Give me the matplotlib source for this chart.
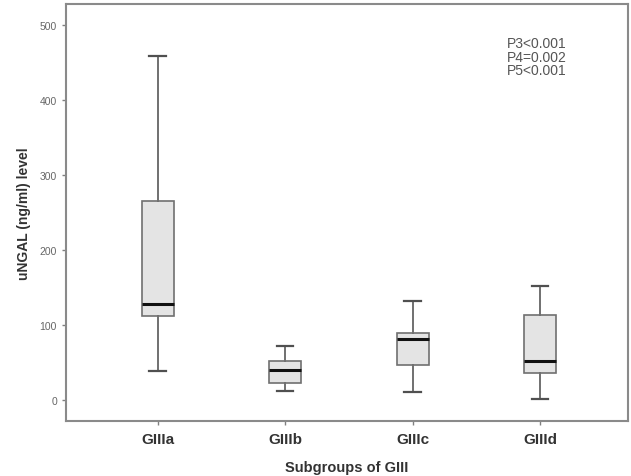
import matplotlib
matplotlib.use("Agg")
import matplotlib.pyplot as plt

plt.rcParams['font.family'] = ['Liberation Sans', 'DejaVu Sans']

# Box summary values
groups = ['GIIIa', 'GIIIb', 'GIIIc', 'GIIId']
whisker_low = [39, 12, 11, 1]
q1 = [112, 23, 47, 36]
median = [128, 40, 81, 52]
q3 = [265, 52, 89, 113]
whisker_high = [459, 72, 132, 152]
p_notes = ['P3<0.001', 'P4=0.002', 'P5<0.001']

stats = []
for i, g in enumerate(groups):
    stats.append(dict(label=g, whislo=whisker_low[i], q1=q1[i], med=median[i],
                      q3=q3[i], whishi=whisker_high[i], fliers=[]))

fig = plt.figure(figsize=(6.31, 4.77), dpi=100)
ax = fig.add_axes([66/631, 1 - 422/477, (628-66)/631, (422-5)/477])

edge = '#707070'
ax.bxp(stats, positions=range(1, 5), widths=0.25, capwidths=0.13,
       patch_artist=True, showfliers=False,
       boxprops=dict(facecolor='#e4e4e4', edgecolor=edge, linewidth=1.2),
       whiskerprops=dict(color=edge, linewidth=1.4),
       capprops=dict(color='#505050', linewidth=1.6),
       medianprops=dict(color='#111111', linewidth=2.2))

ax.set_xlim(0.28, 4.69)
ax.set_ylim(-28, 528)
ax.set_yticks([0, 100, 200, 300, 400, 500])
ax.tick_params(axis='y', labelsize=7.5, labelcolor='#666666', color='#808080', length=3, width=1)
ax.tick_params(axis='x', labelsize=11, color='#808080', length=3, width=1, pad=5)
for lab in ax.get_xticklabels():
    lab.set_fontweight('bold')
    lab.set_color('#333333')

for s in ax.spines.values():
    s.set_color('#8a8a8a')
    s.set_linewidth(1.5)

ax.set_xlabel('Subgroups of GIII', fontsize=10.5, fontweight='bold', color='#333333', labelpad=10)
ax.set_ylabel('uNGAL (ng/ml) level', fontsize=10, fontweight='bold', color='#333333', labelpad=6)

ax.text(0.784, 0.923, '\n'.join(p_notes), transform=ax.transAxes, fontsize=10,
        color='#555555', va='top', ha='left', linespacing=0.95)

fig.savefig('out.png', dpi=100)
